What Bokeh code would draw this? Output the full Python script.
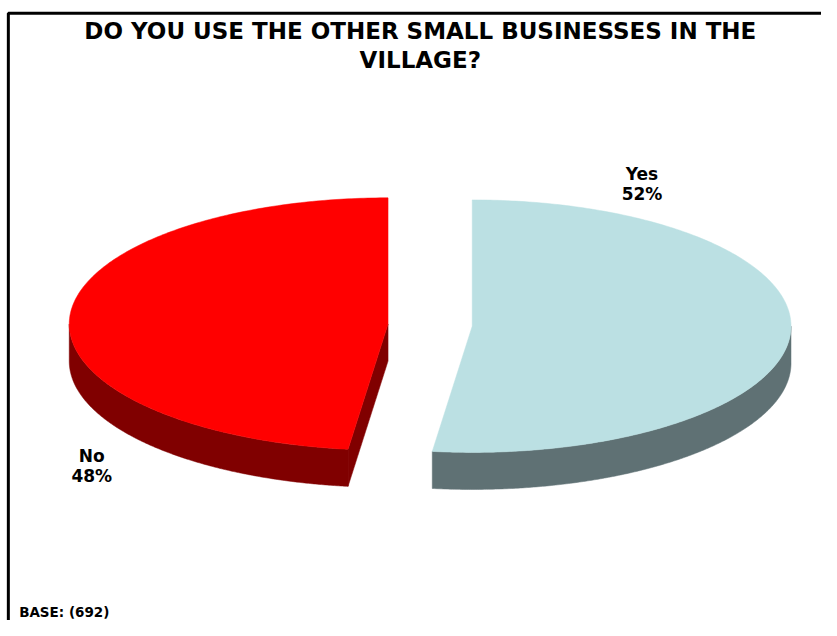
import numpy as np
from bokeh.plotting import figure
from bokeh.models import Range1d
from bokeh.core.properties import value
from bokeh.embed import file_html
from bokeh.resources import INLINE

# ---- data ----
title_lines = ["DO YOU USE THE OTHER SMALL BUSINESSES IN THE", "VILLAGE?"]
categories = ["Yes", "No"]
percents = [52, 48]
base_note = "BASE: (692)"

# ---- styles / layout ----
top_colors = ["#BBE0E3", "#FF0000"]
side_colors = ["#5F7174", "#800000"]
FONT = value("DejaVu Sans")

W, H = 821, 620
REF_W, REF_H = 837, 636
p = figure(width=W, height=H, output_backend="svg", toolbar_location=None,
           x_range=Range1d(0, REF_W), y_range=Range1d(REF_H, 0),
           x_axis_location=None, y_axis_location=None, min_border=0)
p.grid.visible = False
p.outline_line_color = None
p.background_fill_color = "white"
p.border_fill_color = "white"

# frame (left and top edges visible in reference)
p.line([8, 8, REF_W], [REF_H, 13, 13], line_color="black", line_width=3)

# pie geometry (screen-like coordinates, y down)
cx, cy = 438.0, 333.0
rx, ry = 325.0, 129.5
depth = 38.0
explode = 43.0


def arc(th0, th1, ox, oy, dz=0.0, n=240):
    th = np.radians(np.linspace(th0, th1, n))
    return list(cx + ox + rx * np.sin(th)), list(cy + oy - ry * np.cos(th) + dz)


total = float(sum(percents))
ends = np.cumsum([v / total * 360.0 for v in percents])
starts = np.concatenate([[0.0], ends[:-1]])

side_xs, side_ys, side_cs = [], [], []
top_xs, top_ys, top_cs = [], [], []
for i in range(len(percents)):
    a, b = float(starts[i]), float(ends[i])
    mid = np.radians((a + b) / 2)
    ox = explode * np.sin(mid)
    oy = -explode * (ry / rx) * np.cos(mid)
    ax, ay = cx + ox, cy + oy
    # outer rim (front half only)
    lo, hi = max(a, 90.0), min(b, 270.0)
    if lo < hi:
        tx, ty = arc(lo, hi, ox, oy)
        bx, by = arc(hi, lo, ox, oy, depth)
        side_xs.append(tx + bx)
        side_ys.append(ty + by)
        side_cs.append(side_colors[i])
    # cut faces that face the viewer
    for ang, vis in ((a, 180 < a < 360), (b, 0 < b < 180)):
        if vis:
            t = np.radians(ang)
            px, py = ax + rx * np.sin(t), ay - ry * np.cos(t)
            side_xs.append([ax, px, px, ax])
            side_ys.append([ay, py, py + depth, ay + depth])
            side_cs.append(side_colors[i])
    # top face
    tx, ty = arc(a, b, ox, oy)
    top_xs.append([ax] + tx)
    top_ys.append([ay] + ty)
    top_cs.append(top_colors[i])

p.patches(side_xs, side_ys, fill_color=side_cs, line_color=side_cs, line_width=0.5)
p.patches(top_xs, top_ys, fill_color=top_cs, line_color=top_cs, line_width=0.5)

# data labels
label_pos = [(654, 178), (93, 467)]
lx, ly, lt = [], [], []
for (x, y), c, v in zip(label_pos, categories, percents):
    lx += [x, x]
    ly += [y, y + 21]
    lt += [c, f"{v}%"]
p.text(lx, ly, text=lt, text_font=FONT, text_font_style="bold",
       text_font_size="17px", text_align="center", text_baseline="alphabetic",
       text_color="black")

# title
p.text([428, 428], [31, 61], text=title_lines, text_font=FONT,
       text_font_style="bold", text_font_size="23px", text_align="center",
       text_baseline="alphabetic", text_color="black")

# base note
p.text([19], [627], text=[base_note], text_font=FONT, text_font_style="bold",
       text_font_size="13.5px", text_align="left", text_baseline="alphabetic",
       text_color="black")

open("out.html", "w").write(file_html(p, INLINE))
